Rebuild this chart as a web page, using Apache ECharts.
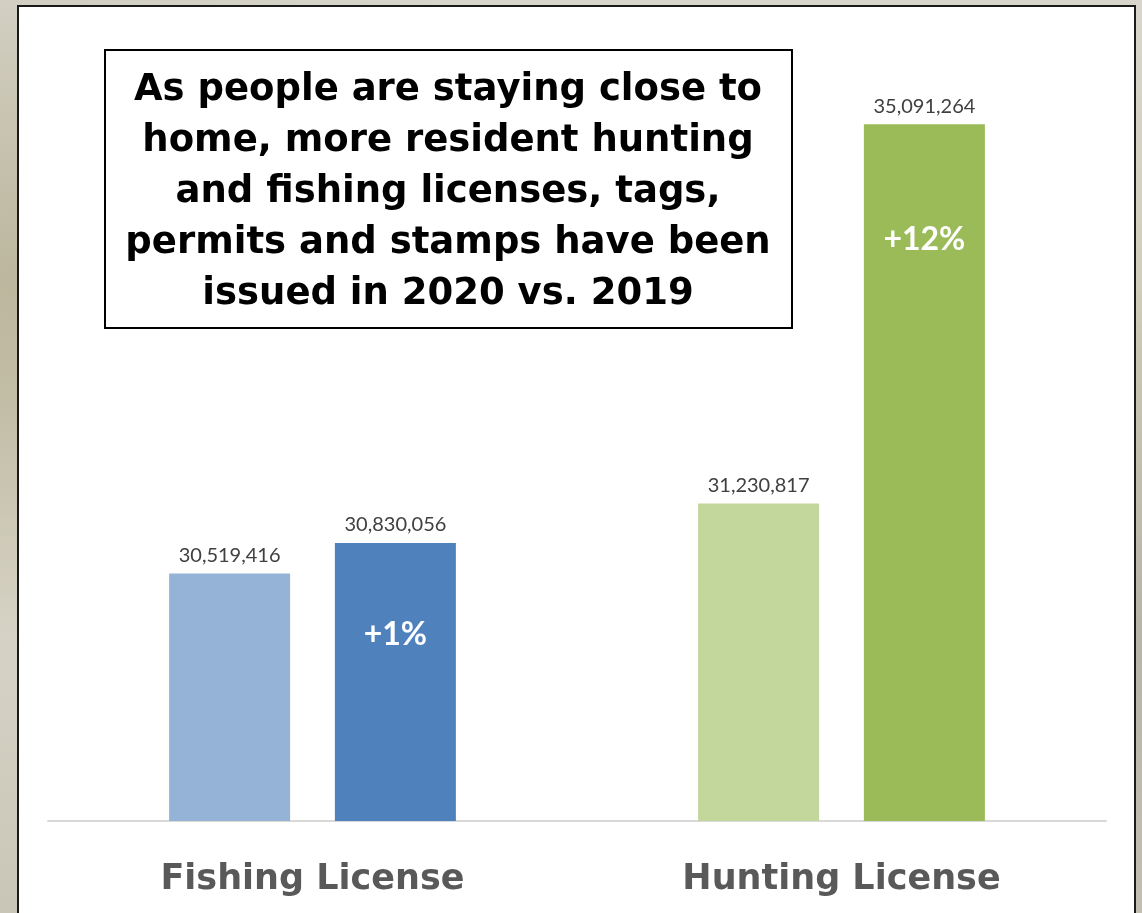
<!DOCTYPE html>
<html><head><meta charset="utf-8">
<script src="https://cdn.jsdelivr.net/npm/echarts@6/dist/echarts.min.js"></script>
<style>
html,body{margin:0;padding:0;width:1142px;height:913px;overflow:hidden;
background:
 radial-gradient(ellipse at 2% 30%, rgba(150,140,100,0.35), rgba(0,0,0,0) 40%),
 radial-gradient(ellipse at 98% 70%, rgba(120,120,110,0.35), rgba(0,0,0,0) 40%),
 linear-gradient(180deg,#d8d6cc 0%,#cfcbb8 40%,#d6d3c6 70%,#c9c6b8 100%);}
#chart{width:1142px;height:913px;}
</style></head>
<body><div id="chart"></div>
<script>
const categories = ['Fishing License', 'Hunting License'];
const values2019 = [30519416, 31230817];
const values2020 = [30830056, 35091264];
const changeLabels = ['+1%', '+12%'];
const titleLines = ['As people are staying close to', 'home, more resident hunting', 'and fishing licenses, tags,', 'permits and stamps have been', 'issued in 2020 vs. 2019'];

const fmt = v => v.toLocaleString('en-US');
const chart = echarts.init(document.getElementById('chart'));
const font = 'Lato, "Open Sans", sans-serif';
const wide = '"DejaVu Sans", sans-serif';

chart.setOption({
  backgroundColor: 'transparent',
  animation: false,
  graphic: [
    { type: 'rect', z: -10, shape: { x: 18, y: 6, width: 1117, height: 930 },
      style: { fill: '#ffffff', stroke: '#1a1a1a', lineWidth: 2 } },
    { type: 'rect', z: 10, shape: { x: 105, y: 50, width: 687, height: 278 },
      style: { fill: '#ffffff', stroke: '#000000', lineWidth: 2 } },
    { type: 'text', z: 11, position: [448, 65],
      style: { text: titleLines.join('\n'), x: 0, y: 0, textAlign: 'center',
        font: 'bold 37px ' + wide, fill: '#000000', lineHeight: 51 } }
  ],
  grid: { left: 48, right: 36, top: 35, bottom: 92 },
  xAxis: {
    type: 'category', data: categories,
    axisLine: { lineStyle: { color: '#d9d9d9', width: 2 } },
    axisTick: { show: false },
    axisLabel: { margin: 41, fontSize: 35, fontWeight: 'bold', color: '#595959', fontFamily: wide }
  },
  yAxis: { type: 'value', min: 28000000, max: 36000000, show: false, splitLine: { show: false } },
  series: [
    { name: '2019', type: 'bar', barWidth: 121, barGap: '37%',
      data: values2019.map((v, i) => ({ value: v, itemStyle: { color: ['#95b3d7', '#c3d69b'][i] } })),
      label: { show: true, position: 'top', distance: 8, formatter: p => fmt(p.value),
        fontSize: 20, color: '#404040', fontFamily: font }
    },
    { name: '2020', type: 'bar', barWidth: 121, barGap: '37%',
      data: values2020.map((v, i) => ({ value: v, itemStyle: { color: ['#4f81bd', '#9bbb59'][i] } })),
      label: { show: true, position: 'top', distance: 8, formatter: p => fmt(p.value),
        fontSize: 20, color: '#404040', fontFamily: font },
      markPoint: {
        symbol: 'rect', symbolSize: 1, itemStyle: { color: 'rgba(0,0,0,0)' },
        label: { show: true, position: 'inside', color: '#ffffff', fontSize: 32, fontWeight: 'bold', fontFamily: font },
        data: values2020.map((v, i) => ({ coord: [categories[i], v], value: changeLabels[i],
          label: { offset: [0, [92, 115][i]], formatter: changeLabels[i] } }))
      }
    }
  ]
});
</script></body></html>
